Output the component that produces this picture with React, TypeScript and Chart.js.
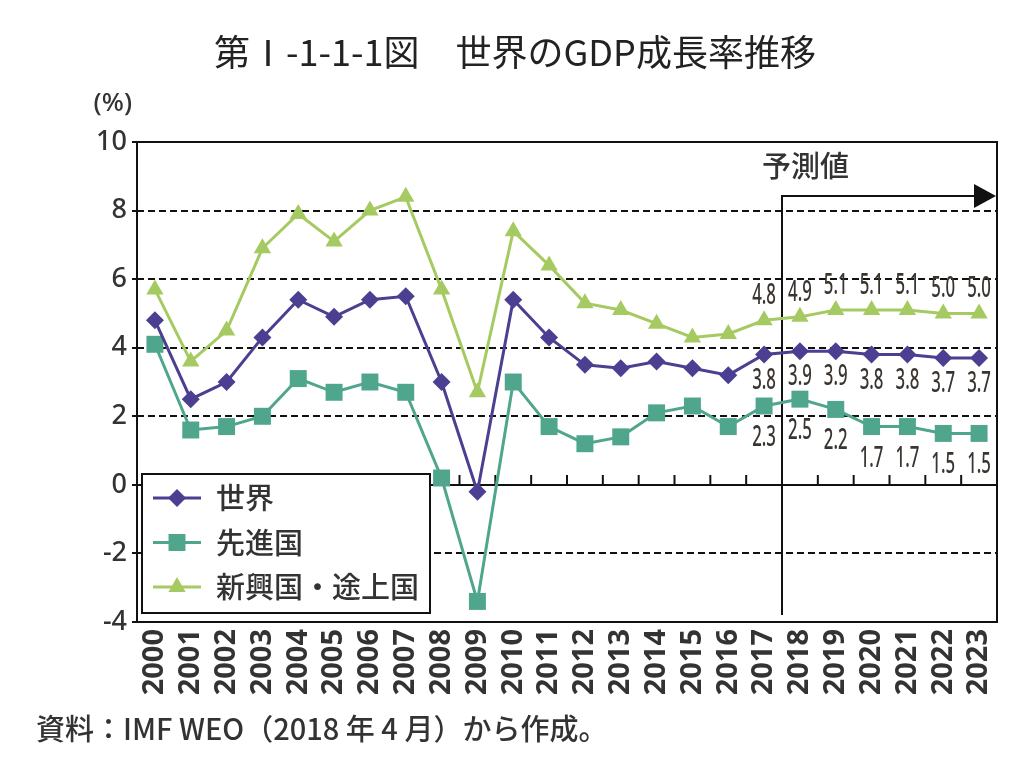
import { useEffect, useRef } from 'react';
import { Chart, registerables } from 'chart.js';
Chart.register(...registerables);

const years = ['2000','2001','2002','2003','2004','2005','2006','2007','2008','2009','2010','2011','2012','2013','2014','2015','2016','2017','2018','2019','2020','2021','2022','2023'];
const world = [4.8,2.5,3.0,4.3,5.4,4.9,5.4,5.5,3.0,-0.2,5.4,4.3,3.5,3.4,3.6,3.4,3.2,3.8,3.9,3.9,3.8,3.8,3.7,3.7];
const advanced = [4.1,1.6,1.7,2.0,3.1,2.7,3.0,2.7,0.2,-3.4,3.0,1.7,1.2,1.4,2.1,2.3,1.7,2.3,2.5,2.2,1.7,1.7,1.5,1.5];
const emerging = [5.7,3.6,4.5,6.9,7.9,7.1,8.0,8.4,5.7,2.7,7.4,6.4,5.3,5.1,4.7,4.3,4.4,4.8,4.9,5.1,5.1,5.1,5.0,5.0];
const seriesNames = ['世界', '先進国', '新興国・途上国'];
const gridValues = [-2, 2, 4, 6, 8];
const labelFrom = 17;

const TITLE = '第Ⅰ-1-1-1図　世界のGDP成長率推移';
const SOURCE = '資料：IMF WEO（2018 年 4 月）から作成。';
const FORECAST = '予測値';

const C_WORLD = '#4b3f92';
const C_ADV = '#4fa68c';
const C_EMG = '#a6ca62';
const TEXT = '#333333';
const JP = "'Noto Sans CJK JP', 'Noto Sans', sans-serif";
const SANS = "'Noto Sans', sans-serif";

function drawMarker(ctx: CanvasRenderingContext2D, style: string, x: number, y: number, r: number, color: string) {
  ctx.save();
  ctx.fillStyle = color;
  ctx.beginPath();
  if (style === 'rectRot') {
    ctx.moveTo(x - r, y); ctx.lineTo(x, y - r); ctx.lineTo(x + r, y); ctx.lineTo(x, y + r);
  } else if (style === 'rect') {
    const s = r * Math.SQRT1_2;
    ctx.rect(x - s, y - s, 2 * s, 2 * s);
  } else {
    ctx.moveTo(x, y - r);
    ctx.lineTo(x + r * Math.sin(2 * Math.PI / 3), y - r * Math.cos(2 * Math.PI / 3));
    ctx.lineTo(x + r * Math.sin(4 * Math.PI / 3), y - r * Math.cos(4 * Math.PI / 3));
  }
  ctx.closePath();
  ctx.fill();
  ctx.restore();
}

const overlay = {
  id: 'overlay',
  beforeDatasetsDraw(chart: any) {
    const ctx: CanvasRenderingContext2D = chart.ctx;
    const ca = chart.chartArea;
    const ys = chart.scales.y;
    const xs = chart.scales.x;
    ctx.save();
    ctx.strokeStyle = '#111';
    ctx.lineWidth = 2;
    ctx.setLineDash([7, 4]);
    gridValues.forEach((v) => {
      const py = Math.round(ys.getPixelForValue(v));
      ctx.beginPath(); ctx.moveTo(ca.left, py); ctx.lineTo(ca.right, py); ctx.stroke();
    });
    ctx.setLineDash([]);
    const y0 = Math.round(ys.getPixelForValue(0));
    ctx.beginPath(); ctx.moveTo(ca.left, y0); ctx.lineTo(ca.right, y0); ctx.stroke();
    for (let i = 0; i < years.length - 1; i++) {
      const bx = (xs.getPixelForValue(i) + xs.getPixelForValue(i + 1)) / 2;
      ctx.beginPath(); ctx.moveTo(bx, y0); ctx.lineTo(bx, y0 - 10); ctx.stroke();
    }
    [-4, -2, 0, 2, 4, 6, 8, 10].forEach((v) => {
      const py = Math.round(ys.getPixelForValue(v));
      ctx.beginPath(); ctx.moveTo(ca.left - 5, py); ctx.lineTo(ca.left, py); ctx.stroke();
    });
    // forecast line & arrow (between 2017 and 2018)
    const fx = (xs.getPixelForValue(labelFrom) + xs.getPixelForValue(labelFrom + 1)) / 2;
    const ay = ca.top + 54;
    ctx.lineWidth = 2;
    ctx.beginPath(); ctx.moveTo(fx, ca.bottom - 7); ctx.lineTo(fx, ay); ctx.lineTo(ca.right - 22, ay); ctx.stroke();
    ctx.fillStyle = '#111';
    ctx.beginPath(); ctx.moveTo(ca.right - 23, ay - 12); ctx.lineTo(ca.right - 1, ay); ctx.lineTo(ca.right - 23, ay + 12); ctx.closePath(); ctx.fill();
    ctx.fillStyle = TEXT;
    ctx.font = `500 29px ${JP}`;
    ctx.textAlign = 'left';
    ctx.textBaseline = 'middle';
    ctx.fillText(FORECAST, fx - 20, ay - 30);
    ctx.restore();
  },
  afterDatasetsDraw(chart: any) {
    const ctx: CanvasRenderingContext2D = chart.ctx;
    const ca = chart.chartArea;
    ctx.save();
    ctx.fillStyle = '#3a3530';
    ctx.font = `500 28px ${SANS}`;
    ctx.textAlign = 'center';
    ctx.textBaseline = 'middle';
    const offs = [26, 32, -24];
    [0, 1, 2].forEach((di) => {
      const meta = chart.getDatasetMeta(di);
      const data = chart.data.datasets[di].data as number[];
      for (let i = labelFrom; i < data.length; i++) {
        const el = meta.data[i];
        ctx.save();
        ctx.translate(el.x, el.y + offs[di]);
        ctx.scale(0.6, 1);
        ctx.fillText(data[i].toFixed(1), 0, 0);
        ctx.restore();
      }
    });
    ctx.strokeStyle = '#111';
    ctx.lineWidth = 2;
    ctx.strokeRect(ca.left, ca.top, ca.right - ca.left, ca.bottom - ca.top);
    // legend
    const lx = ca.left + 5, ly = ca.top + 332, lw = 288, lh = 139;
    ctx.fillStyle = '#fff';
    ctx.fillRect(lx, ly, lw, lh);
    ctx.strokeRect(lx, ly, lw, lh);
    const cols = [C_WORLD, C_ADV, C_EMG];
    const styles = ['rectRot', 'rect', 'triangle'];
    const radii = [9, 12, 10];
    seriesNames.forEach((name, i) => {
      const ry = ly + 24 + i * 44.5;
      ctx.strokeStyle = cols[i];
      ctx.lineWidth = 3;
      ctx.beginPath(); ctx.moveTo(lx + 11, ry); ctx.lineTo(lx + 59, ry); ctx.stroke();
      drawMarker(ctx, styles[i], lx + 35, ry, radii[i], cols[i]);
      ctx.fillStyle = TEXT;
      ctx.font = `500 29px ${JP}`;
      ctx.textAlign = 'left';
      ctx.textBaseline = 'middle';
      ctx.fillText(name, lx + 74, ry);
    });
    ctx.restore();
  },
  afterDraw(chart: any) {
    const ctx: CanvasRenderingContext2D = chart.ctx;
    ctx.save();
    ctx.fillStyle = '#222';
    ctx.font = `400 36px ${JP}`;
    ctx.textAlign = 'center';
    ctx.textBaseline = 'middle';
    ctx.fillText(TITLE, 515, 52);
    ctx.fillStyle = TEXT;
    ctx.font = `500 26px ${SANS}`;
    ctx.textAlign = 'right';
    ctx.fillText('(%)', 132, 104);
    ctx.textAlign = 'left';
    ctx.font = `500 29px ${JP}`;
    ctx.fillText(SOURCE, 36, 729);
    ctx.restore();
  },
};

export default function App() {
  const ref = useRef<HTMLCanvasElement | null>(null);
  useEffect(() => {
    if (!ref.current) return;
    const chart = new Chart(ref.current, {
      type: 'line',
      data: {
        labels: years,
        datasets: [
          { label: seriesNames[0], data: world, borderColor: C_WORLD, backgroundColor: C_WORLD, borderWidth: 3, pointStyle: 'rectRot', pointRadius: 9, pointBorderWidth: 0, tension: 0 },
          { label: seriesNames[1], data: advanced, borderColor: C_ADV, backgroundColor: C_ADV, borderWidth: 3, pointStyle: 'rect', pointRadius: 12, pointBorderWidth: 0, tension: 0 },
          { label: seriesNames[2], data: emerging, borderColor: C_EMG, backgroundColor: C_EMG, borderWidth: 3, pointStyle: 'triangle', pointRadius: 10, pointBorderWidth: 0, tension: 0 },
        ],
      },
      options: {
        animation: false,
        responsive: false,
        maintainAspectRatio: false,
        layout: { padding: { left: 77, right: 27, top: 142, bottom: 48 } },
        plugins: { legend: { display: false }, title: { display: false }, tooltip: { enabled: false } },
        scales: {
          x: {
            type: 'category',
            offset: true,
            grid: { display: false, drawTicks: false },
            border: { display: false },
            ticks: { minRotation: 90, maxRotation: 90, autoSkip: false, padding: 7, color: TEXT, font: { family: SANS, size: 29, weight: 'bold' } },
            afterFit: (s: any) => { s.height = 90; },
          },
          y: {
            min: -4, max: 10,
            grid: { display: false, drawTicks: false },
            border: { display: false },
            ticks: { stepSize: 2, padding: 10, color: TEXT, font: { family: SANS, size: 27, weight: '500' } },
            afterFit: (s: any) => { s.width = 60; },
          },
        },
      },
      plugins: [overlay],
    } as any);
    return () => chart.destroy();
  }, []);
  return (
    <div style={{ position: 'absolute', left: 0, top: 0, width: 1024, height: 760, background: '#fff' }}>
      <canvas ref={ref} width={1024} height={760} style={{ width: 1024, height: 760 }} />
    </div>
  );
}
